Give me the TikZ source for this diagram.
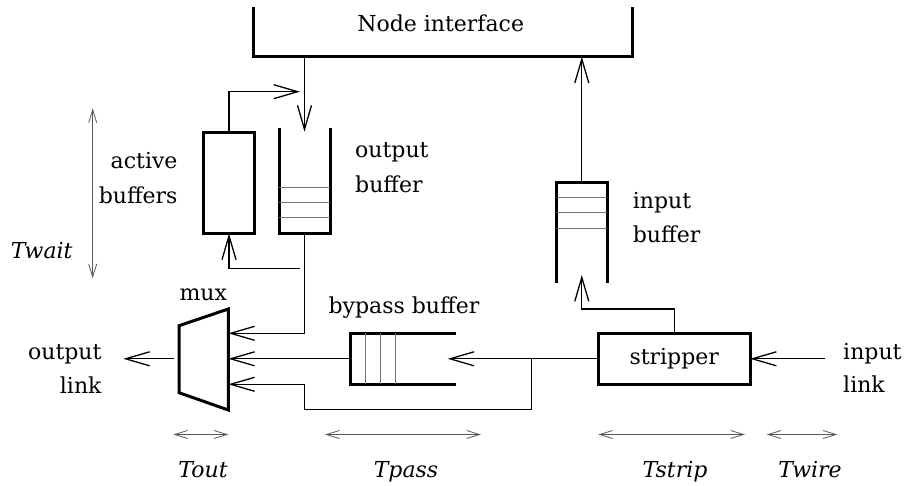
\documentclass[tikz,border=0pt]{standalone}
\usepackage{fontspec}
\setmainfont{DejaVu Serif}
\usetikzlibrary{arrows.meta,calc}
\begin{document}
\begin{tikzpicture}[x=1pt,y=-1pt,
  thinline/.style={line width=1.3pt},
  thickline/.style={line width=3pt},
  arr/.style={thinline,-{Straight Barb[length=24pt,width=14pt]}},
  dimarr/.style={line width=0.8pt, draw=black!65, {Straight Barb[length=13pt,width=8pt]}-{Straight Barb[length=13pt,width=8pt]}},
  lbl/.style={inner sep=0pt, font=\fontsize{22}{34}\selectfont},
  ilbl/.style={inner sep=0pt, font=\fontsize{22}{34}\selectfont\itshape},
  slot/.style={line width=0.9pt, draw=black!55},
  box/.style={draw=none, inner sep=0pt, outer sep=0pt, rectangle}
]
\useasboundingbox (0,0) rectangle (907,486);

% shapes
\node[box, minimum width=379pt, minimum height=49.7pt] (ni) at (442.8,31.85) {};
\draw[thickline] (ni.north west) -- (ni.south west) -- (ni.south east) -- (ni.north east);
\node[lbl, anchor=base] (nilbl) at (440.7,31.7) {Node interface};

\node[box, minimum width=51pt, minimum height=105.6pt] (obuf) at (304.5,180.5) {};
\draw[thickline] (obuf.north west) -- (obuf.south west) -- (obuf.south east) -- (obuf.north east);
\draw[slot] (279,187.7) -- (330,187.7) (279,202.7) -- (330,202.7) (279,217.7) -- (330,217.7);

\node[box, draw, thickline, minimum width=51.4pt, minimum height=101.3pt] (abuf) at (229,182.7) {};

\node[box, minimum width=50.5pt, minimum height=100pt] (ibuf) at (581.8,232.7) {};
\draw[thickline] (ibuf.south west) -- (ibuf.north west) -- (ibuf.north east) -- (ibuf.south east);
\draw[slot] (556.5,197.7) -- (607,197.7) (556.5,212.7) -- (607,212.7) (556.5,228) -- (607,228);

\node[box, draw, thickline, minimum width=151.7pt, minimum height=51pt, font=\fontsize{22}{34}\selectfont] (strip) at (674.2,358.8) {stripper};

\node[box, minimum width=106pt, minimum height=51pt] (bbuf) at (403,358.8) {};
\draw[thickline] (bbuf.north east) -- (bbuf.north west) -- (bbuf.south west) -- (bbuf.south east);
\draw[slot] (365,333.3) -- (365,384.3) (380.7,333.3) -- (380.7,384.3) (395.7,333.3) -- (395.7,384.3);

\node[box, minimum width=49.3pt, minimum height=101pt] (mux) at (203.65,359.5) {};
\draw[thickline] (mux.north east) -- (mux.south east) -- ($(mux.south west)+(0,-17.3)$) -- ($(mux.north west)+(0,16.7)$) -- cycle;

% coordinates
\coordinate (niout) at (304.5,56.7);
\coordinate (ain) at (300,91.7);
\coordinate (aout) at (300,268.3);
\coordinate (iin) at (581.8,275);
\coordinate (bin) at (447.7,358.8);
\coordinate (jn) at (531.7,358.8);
\coordinate (jd) at (531.7,409.3);
\coordinate (jl) at (304.5,409.3);
\coordinate (inlink) at (825,358.8);
\coordinate (outlink) at (123.3,358.8);
\coordinate (muxout) at (173.5,358.8);

% connectors
\draw[arr] (niout) -- ($(obuf.north)+(0,4)$);
\draw[arr] (abuf.north) |- (ain);
\draw[arr] (aout) -| (abuf.south);
\draw[arr] (obuf.south) |- (mux.east |- bbuf.north);
\draw[arr] (bbuf.west) -- (mux.east |- bbuf.west);
\draw[arr] (strip.west) -- (bin);
\draw[arr] (jn) -- (jd) -- (jl) |- (mux.east |- bbuf.south);
\draw[arr] (strip.north) -- ++(0,-24.3) -| (iin);
\draw[arr] (ibuf.north) -- (ibuf.north |- ni.south);
\draw[arr] (inlink) -- (strip.east);
\draw[arr] (muxout) -- (outlink);

% dimension arrows
\draw[dimarr] (173.3,434.5) -- (228.3,434.5);
\draw[dimarr] (325,434.5) -- (481,434.5);
\draw[dimarr] (598.3,434.5) -- (745,434.5);
\draw[dimarr] (766.7,434.5) -- (837.3,434.5);
\draw[dimarr] (92.7,108.3) -- (92.7,278.3);

% labels
\node[lbl, anchor=base west] (ob1) at (355,158) {output};
\node[lbl, anchor=base west] (ob2) at (355,192.5) {buffer};
\node[lbl, anchor=base east] (ab1) at (177.7,168.3) {active};
\node[lbl, anchor=base east] (ab2) at (177.7,203.3) {buffers};
\node[lbl, anchor=base west] (ib1) at (632.7,208.3) {input};
\node[lbl, anchor=base west] (ib2) at (632.7,243) {buffer};
\node[lbl, anchor=base west] (il1) at (843,359.3) {input};
\node[lbl, anchor=base west] (il2) at (843,392.5) {link};
\node[lbl, anchor=base east] (ol1) at (101.7,359) {output};
\node[lbl, anchor=base east] (ol2) at (101.7,393.3) {link};
\node[lbl, anchor=base] (muxlbl) at (203.3,300) {mux};
\node[lbl, anchor=base] (bblbl) at (404,313.3) {bypass buffer};
\node[ilbl, anchor=base] (tw) at (41.7,258.3) {Twait};
\node[ilbl, anchor=base] (to) at (203,477) {Tout};
\node[ilbl, anchor=base] (tp) at (406,477) {Tpass};
\node[ilbl, anchor=base] (ts) at (675,477) {Tstrip};
\node[ilbl, anchor=base] (twr) at (810,477) {Twire};
\end{tikzpicture}
\end{document}
